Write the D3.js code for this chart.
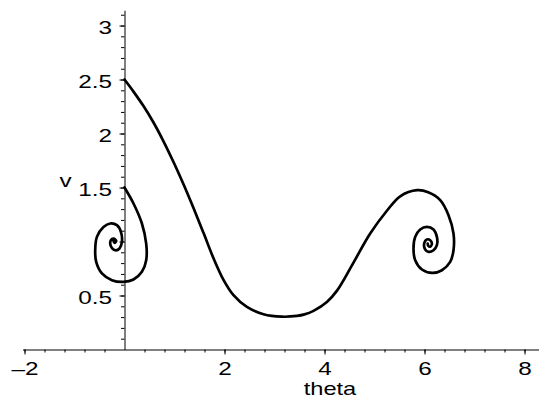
<!DOCTYPE html>
<html>
<head>
<meta charset="utf-8">
<script src="https://cdn.jsdelivr.net/npm/d3@7"></script>
<style>
  html, body { margin: 0; padding: 0; background: #fff; }
  svg { display: block; }
  text { font-family: "Liberation Sans", Arial, Helvetica, sans-serif; fill: #000; }
</style>
</head>
<body>
<svg id="chart" width="539" height="398"></svg>
<script>
// Phase-plane trajectories: theta (horizontal) against v (vertical)

// Trajectory starting at (0, 2.5), settling into the spiral near theta ≈ 6.1
const theta1 = [0.000, 0.180, 0.380, 0.580, 0.780, 0.980, 1.180, 1.380, 1.580, 1.780,
  1.980, 2.180, 2.448, 2.780, 3.148, 3.448, 3.600, 3.780, 4.048, 4.250,
  4.580, 4.914, 5.248, 5.514, 5.854, 6.074, 6.314, 6.480, 6.580, 6.580,
  6.514, 6.348, 6.154, 5.948, 5.814, 5.780, 5.814, 5.914, 6.048, 6.180,
  6.248, 6.248, 6.180, 6.080, 6.014, 5.994, 6.048, 6.114, 6.148, 6.114,
  6.074, 6.064];
const v1 = [2.500, 2.388, 2.254, 2.102, 1.928, 1.736, 1.530, 1.310, 1.080, 0.845,
  0.645, 0.503, 0.394, 0.327, 0.304, 0.311, 0.325, 0.358, 0.440, 0.545,
  0.805, 1.074, 1.285, 1.419, 1.475, 1.456, 1.383, 1.244, 1.074, 0.919,
  0.811, 0.734, 0.709, 0.741, 0.827, 0.935, 1.043, 1.111, 1.135, 1.111,
  1.043, 0.966, 0.919, 0.904, 0.926, 0.981, 1.019, 1.012, 0.981, 0.952,
  0.961, 0.980];

// Trajectory starting at (0, 1.5), settling into the spiral near theta ≈ -0.2
const theta2 = [0.000, 0.180, 0.348, 0.434, 0.434, 0.348, 0.180, -0.020, -0.252, -0.452,
  -0.566, -0.586, -0.552, -0.420, -0.286, -0.152, -0.072, -0.052, -0.100, -0.186,
  -0.272, -0.272, -0.220, -0.166, -0.200, -0.220];
const v2 = [1.500, 1.352, 1.167, 0.981, 0.827, 0.719, 0.648, 0.626, 0.642, 0.704,
  0.811, 0.919, 1.043, 1.135, 1.167, 1.151, 1.089, 0.996, 0.935, 0.919,
  0.956, 1.012, 1.028, 1.006, 0.987, 1.006];

// Axis ticks and labels
const xMajorTicks = [-2, 2, 4, 6, 8];
const xTickLabels = ["\u20132", "2", "4", "6", "8"];
const xMinorStep = 0.4;
const yMajorTicks = [0.5, 1, 1.5, 2, 2.5, 3];
const yTickLabels = ["0.5", "", "1.5", "2", "2.5", "3"];
const yMinorStep = 0.1;
const xTitle = "theta";
const yTitle = "v";

const svg = d3.select("#chart");
const x = d3.scaleLinear().domain([-2.04, 8.29]).range([22.5, 539]);
const y = d3.scaleLinear().domain([0, 3.142]).range([349.5, 10.2]);

const stretch = 1.35;   // horizontal text stretch
const fontSize = 18;

const xMinor = d3.range(-2, 8.3, xMinorStep).map(d => +d.toFixed(2)).filter(d => Math.abs(d) > 1e-6);
const yMinor = d3.range(yMinorStep, 3.15, yMinorStep).map(d => +d.toFixed(2));

// x axis: minor ticks, then major ticks with labels
svg.append("g")
  .attr("transform", `translate(0,${y(0)})`)
  .call(d3.axisBottom(x).tickValues(xMinor).tickSize(3).tickSizeOuter(0).tickFormat(""))
  .call(g => g.selectAll("line,path").attr("stroke", "#000").attr("stroke-width", 1));

const gx = svg.append("g")
  .attr("transform", `translate(0,${y(0)})`)
  .call(d3.axisBottom(x).tickValues(xMajorTicks).tickSize(5).tickSizeOuter(0)
    .tickFormat((d, i) => xTickLabels[i]));
gx.select(".domain").remove();
gx.selectAll("line").attr("stroke", "#000");
gx.selectAll("text")
  .attr("font-size", fontSize)
  .attr("font-family", null)
  .attr("y", 25.8).attr("dy", null)
  .attr("transform", `scale(${stretch},1)`);

// y axis: minor ticks, then major ticks with labels
svg.append("g")
  .attr("transform", `translate(${x(0)},0)`)
  .call(d3.axisLeft(y).tickValues(yMinor).tickSize(3.5).tickSizeOuter(0).tickFormat(""))
  .call(g => g.selectAll("line,path").attr("stroke", "#000").attr("stroke-width", 1));

const gy = svg.append("g")
  .attr("transform", `translate(${x(0)},0)`)
  .call(d3.axisLeft(y).tickValues(yMajorTicks).tickSize(5).tickSizeOuter(0)
    .tickFormat((d, i) => yTickLabels[i]));
gy.select(".domain").remove();
gy.selectAll("line").attr("stroke", "#000");
gy.selectAll("text")
  .attr("font-size", fontSize)
  .attr("font-family", null)
  .attr("x", -12.5 / stretch)
  .attr("dy", "0.42em")
  .attr("transform", `scale(${stretch},1)`);

// axis titles
svg.append("text")
  .attr("transform", `translate(330,395) scale(${stretch},1)`)
  .attr("text-anchor", "middle")
  .attr("font-size", 17.5)
  .text(xTitle);

svg.append("text")
  .attr("transform", `translate(65.5,187) scale(${stretch},1)`)
  .attr("text-anchor", "middle")
  .attr("font-size", fontSize)
  .text(yTitle);

// trajectories
const line = d3.line()
  .x(d => x(d[0]))
  .y(d => y(d[1]))
  .curve(d3.curveCatmullRom.alpha(0.5));

const paths = [
  d3.zip(theta1, v1),
  d3.zip(theta2, v2)
];

svg.append("g")
  .selectAll("path")
  .data(paths)
  .join("path")
  .attr("d", line)
  .attr("fill", "none")
  .attr("stroke", "#000")
  .attr("stroke-width", 2.7)
  .attr("stroke-linejoin", "round")
  .attr("stroke-linecap", "round");
</script>
</body>
</html>
